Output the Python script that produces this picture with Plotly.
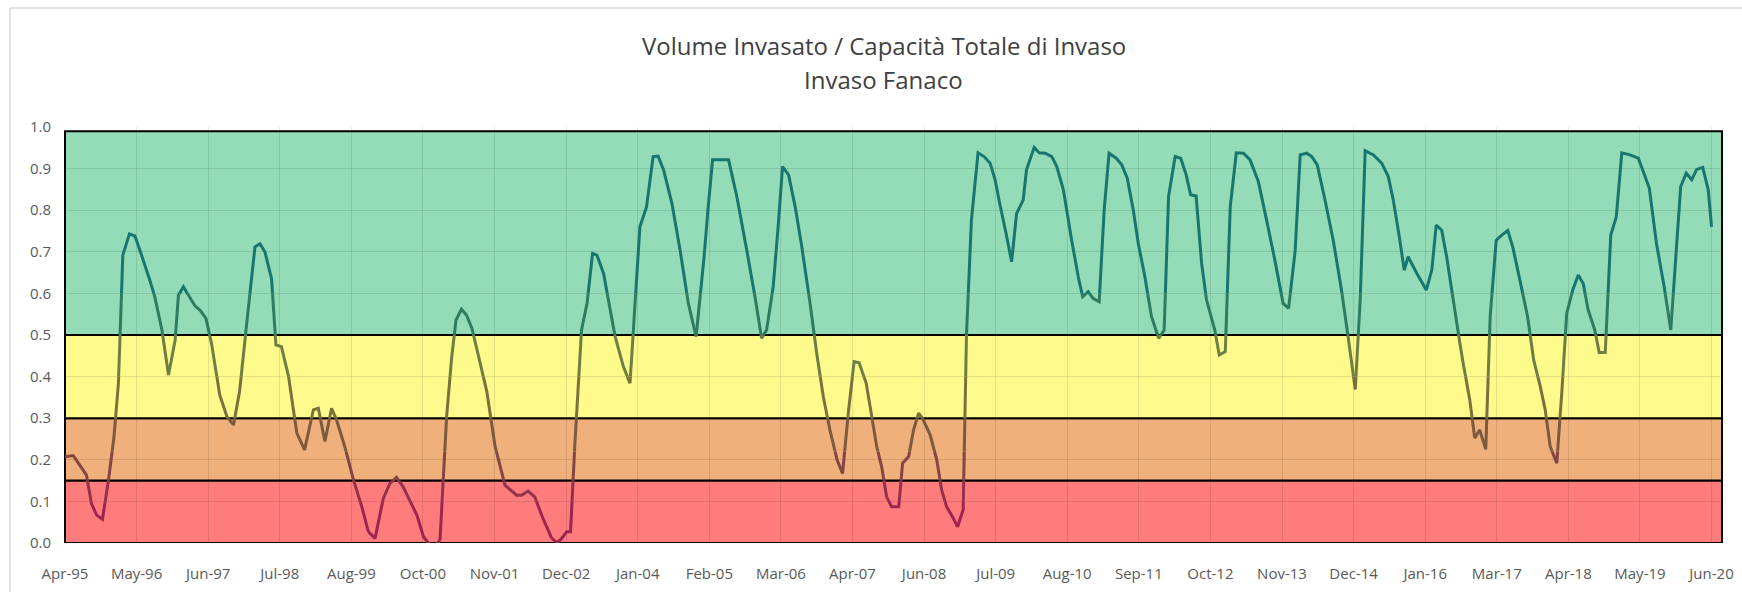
import plotly.graph_objects as go

# ---------------- data ----------------
# x = position along the category axis (one category per month, label every 13 categories)
month_idx = [
    0, 1.5, 3.3, 3.9, 4.8, 5.75, 6.8, 7.9, 8.9, 9.7, 10.5, 11.7, 12.7, 13.6, 15.4, 16.3, 17.6, 18.8, 20, 20.6,
    21.5, 22.4, 23.6, 24.5, 25.6, 26.6, 28.1, 29.4, 30.6, 31.7, 33, 34.5, 35.4, 36.3, 37.5, 38.3, 39.3, 40.6,
    42.1, 43.5, 45.1, 46, 47.2, 48.4, 49.3, 50.8, 52.4, 53.9, 55.1, 56.3, 57.8, 59, 60.2, 61.4, 63.9, 65.1,
    66.3, 67.2, 68.1, 69.3, 70.2, 71, 72, 72.9, 73.9, 75.4, 76.6, 78.1, 79.9, 82, 82.9, 84.1, 85.3, 86.8,
    88.4, 89.4, 90.2, 91.1, 91.8, 92.6, 93.8, 94.8, 95.8, 96.6, 97.8, 99.9, 101.4, 102.6, 104.4, 105.6,
    106.8, 107.7, 108.7, 110.2, 111.7, 113.2, 114.6, 116, 116.8, 117.6, 120.5, 122, 123.8, 125.3, 126.5,
    127.4, 128.6, 129.5, 130.3, 131.4, 132.6, 133.8, 135.3, 136.5, 137.7, 138.9, 140.2, 141.2, 142.3,
    143.3, 144.2, 145.5, 146.5, 147.4, 148.3, 149.2, 150.1, 151.4, 152.1, 153.2, 154.1, 155, 155.7, 157.1,
    158.3, 159.2, 160.1, 161, 162.1, 163.1, 163.7, 164.6, 165.8, 166.9, 168, 168.9, 169.8, 170.9, 171.9,
    172.8, 173.4, 174, 174.6, 176, 176.9, 178, 179.2, 180.1, 181.3, 182.8, 184, 184.8, 185.8, 186.7, 187.8,
    188.7, 189.6, 190.9, 191.9, 192.9, 194, 194.9, 196.1, 197.3, 198.6, 199.6, 200.4, 201.6, 202.6, 203.6,
    204.4, 205.4, 206.4, 207.3, 208.8, 209.6, 210.7, 211.6, 212.7, 214, 215.2, 216.7, 218.2, 219.7, 221.2,
    222.2, 223.4, 224.3, 225.5, 226.4, 227.4, 228.8, 230.3, 231.8, 233, 234.3, 235.2, 236.1, 237.6, 239.1,
    240.3, 241.2, 242.3, 243.2, 243.9, 245.5, 247.2, 248.2, 249, 250, 250.9, 252.1, 253.3, 253.9, 255.1,
    256, 256.9, 258, 258.8, 259.9, 260.9, 262, 262.9, 264.2, 265.6, 266.7, 267.9, 268.8, 269.7, 270.9,
    271.8, 272.7, 273.8, 274.8, 275.7, 276.6, 277.8, 278.6, 279.7, 280.7, 281.7, 282.7, 284.2, 285.7,
    286.6, 287.7, 289, 290.4, 291.6, 292.6, 293.4, 294.4, 295.4, 296.3, 297.4, 298.4, 299,
]
ratio = [
    0.207, 0.21, 0.175, 0.163, 0.095, 0.067, 0.057, 0.151, 0.256, 0.384, 0.692, 0.743, 0.738, 0.704, 0.632,
    0.592, 0.512, 0.404, 0.488, 0.596, 0.616, 0.596, 0.57, 0.56, 0.54, 0.48, 0.356, 0.304, 0.284, 0.364,
    0.528, 0.712, 0.719, 0.70, 0.636, 0.476, 0.472, 0.40, 0.264, 0.224, 0.32, 0.324, 0.244, 0.324, 0.296,
    0.232, 0.151, 0.087, 0.027, 0.011, 0.107, 0.143, 0.158, 0.135, 0.067, 0.015, -0.005, -0.009, 0.007,
    0.304, 0.444, 0.536, 0.562, 0.548, 0.516, 0.432, 0.364, 0.232, 0.139, 0.115, 0.115, 0.125, 0.111,
    0.059, 0.011, 0.001, 0.011, 0.027, 0.027, 0.24, 0.512, 0.576, 0.696, 0.692, 0.648, 0.496, 0.424, 0.384,
    0.76, 0.808, 0.929, 0.93, 0.897, 0.817, 0.704, 0.576, 0.496, 0.68, 0.808, 0.921, 0.921, 0.833, 0.704,
    0.592, 0.492, 0.512, 0.616, 0.76, 0.905, 0.885, 0.808, 0.712, 0.576, 0.456, 0.352, 0.272, 0.2, 0.167,
    0.32, 0.436, 0.433, 0.384, 0.304, 0.232, 0.183, 0.111, 0.087, 0.087, 0.192, 0.208, 0.272, 0.312, 0.30,
    0.26, 0.2, 0.127, 0.087, 0.067, 0.039, 0.08, 0.5, 0.776, 0.938, 0.929, 0.913, 0.873, 0.812, 0.744,
    0.676, 0.792, 0.808, 0.825, 0.897, 0.951, 0.938, 0.937, 0.929, 0.905, 0.849, 0.728, 0.64, 0.592, 0.604,
    0.588, 0.58, 0.8, 0.937, 0.925, 0.909, 0.877, 0.80, 0.72, 0.64, 0.544, 0.492, 0.512, 0.833, 0.929,
    0.925, 0.885, 0.837, 0.834, 0.672, 0.584, 0.512, 0.452, 0.46, 0.808, 0.938, 0.937, 0.921, 0.869, 0.776,
    0.68, 0.576, 0.564, 0.704, 0.933, 0.937, 0.929, 0.909, 0.825, 0.728, 0.608, 0.496, 0.369, 0.584, 0.943,
    0.933, 0.913, 0.881, 0.825, 0.736, 0.656, 0.688, 0.648, 0.608, 0.656, 0.764, 0.752, 0.688, 0.584, 0.48,
    0.432, 0.344, 0.252, 0.272, 0.225, 0.544, 0.728, 0.74, 0.751, 0.712, 0.632, 0.544, 0.44, 0.376, 0.32,
    0.232, 0.192, 0.36, 0.552, 0.608, 0.644, 0.624, 0.56, 0.512, 0.458, 0.458, 0.74, 0.784, 0.938, 0.933,
    0.925, 0.893, 0.853, 0.72, 0.616, 0.512, 0.704, 0.857, 0.889, 0.873, 0.898, 0.903, 0.849, 0.76,
]
tick_labels = ["Apr-95", "May-96", "Jun-97", "Jul-98", "Aug-99", "Oct-00", "Nov-01", "Dec-02",
               "Jan-04", "Feb-05", "Mar-06", "Apr-07", "Jun-08", "Jul-09", "Aug-10", "Sep-11",
               "Oct-12", "Nov-13", "Dec-14", "Jan-16", "Mar-17", "Apr-18", "May-19", "Jun-20"]
label_every = 13

# alert bands: (low, high, fill)
bands = [(0.0, 0.15, "#ff7c7c"), (0.15, 0.30, "#efb07c"), (0.30, 0.50, "#fffa8c"), (0.50, 0.99, "#94dcb7")]
# line colour by value range (gradient look)
line_zones = [
    (-1.0, 0.10, "#9e2550"), (0.10, 0.15, "#92324b"), (0.15, 0.22, "#854545"), (0.22, 0.30, "#7b5a3e"),
    (0.30, 0.40, "#79723d"), (0.40, 0.50, "#6d7f42"), (0.50, 0.60, "#2d7c60"), (0.60, 2.00, "#17766f"),
]


def zone_of(v):
    for k, (lo, hi, _) in enumerate(line_zones):
        if lo <= v < hi:
            return k
    return len(line_zones) - 1


# split the polyline where it crosses a zone edge, so each piece gets its zone colour
edges = [z[0] for z in line_zones[1:]]
pieces = []  # (zone, start point, end point)
for (x0, y0), (x1, y1) in zip(zip(month_idx, ratio), zip(month_idx[1:], ratio[1:])):
    cuts = [0.0, 1.0]
    for e in edges:
        if (y0 - e) * (y1 - e) < 0:
            cuts.append((e - y0) / (y1 - y0))
    cuts.sort()
    for ta, tb in zip(cuts, cuts[1:]):
        pa = (x0 + (x1 - x0) * ta, y0 + (y1 - y0) * ta)
        pb = (x0 + (x1 - x0) * tb, y0 + (y1 - y0) * tb)
        pieces.append((zone_of((pa[1] + pb[1]) / 2), pa, pb))

zone_x = {k: [] for k in range(len(line_zones))}
zone_y = {k: [] for k in range(len(line_zones))}
last = None
for k, pa, pb in pieces:
    if last is not None and last[0] == k and last[1] == pa:
        zone_x[k].append(pb[0]); zone_y[k].append(pb[1])
    else:
        if zone_x[k]:
            zone_x[k].append(None); zone_y[k].append(None)
        zone_x[k] += [pa[0], pb[0]]; zone_y[k] += [pa[1], pb[1]]
    last = (k, pb)

FONT = "Open Sans"
fig = go.Figure()
for k, (_, _, col) in enumerate(line_zones):
    fig.add_trace(go.Scatter(x=zone_x[k], y=zone_y[k], mode="lines", connectgaps=False,
                             line=dict(color=col, width=3, simplify=False),
                             hoverinfo="skip", showlegend=False, cliponaxis=False))

n_cat = label_every * (len(tick_labels) - 1)
shapes = []
for lo, hi, col in bands:
    shapes.append(dict(type="rect", xref="x domain", yref="y", x0=0, x1=1, y0=lo, y1=hi,
                       fillcolor=col, line=dict(color="black", width=2), layer="below"))
# chart-area frame (left and top edges)
shapes.append(dict(type="line", xref="paper", yref="paper", x0=-0.0332, x1=-0.0332, y0=-0.2, y1=1.286,
                   line=dict(color="#d9d9d9", width=1.5)))
shapes.append(dict(type="line", xref="paper", yref="paper", x0=-0.0332, x1=1.05, y0=1.286, y1=1.286,
                   line=dict(color="#d9d9d9", width=1.5)))

grid = "rgba(0,0,0,0.10)"
fig.update_layout(
    width=1742, height=592, autosize=False,
    margin=dict(l=65, r=20, t=127, b=49, autoexpand=False),
    paper_bgcolor="white", plot_bgcolor="rgba(0,0,0,0)",
    showlegend=False,
    shapes=shapes,
    xaxis=dict(range=[0, n_cat + 1.9], tickvals=[i * label_every for i in range(len(tick_labels))],
               ticktext=tick_labels, showgrid=True, gridcolor=grid, gridwidth=1, automargin=False,
               zeroline=False, showline=False, ticks="outside", ticklen=17, tickcolor="rgba(0,0,0,0)",
               tickfont=dict(family=FONT, size=15, color="#595959"), fixedrange=True),
    yaxis=dict(range=[0, 1], dtick=0.1, tick0=0, tickformat=".1f", automargin=False,
               showgrid=True, gridcolor=grid, gridwidth=1, zeroline=False,
               ticks="outside", ticklen=10, tickcolor="rgba(0,0,0,0)",
               tickfont=dict(family=FONT, size=15, color="#595959"), fixedrange=True),
    annotations=[
        dict(text="Volume Invasato / Capacità Totale di Invaso", xref="paper", yref="paper",
             x=0.494, y=1.197, xanchor="center", yanchor="middle", showarrow=False,
             font=dict(family=FONT, size=24, color="#404040")),
        dict(text="Invaso Fanaco", xref="paper", yref="paper", x=0.494, y=1.115,
             xanchor="center", yanchor="middle", showarrow=False,
             font=dict(family=FONT, size=24, color="#404040")),
    ],
)

fig.write_html("out.html", config={"displayModeBar": False},
               post_script="document.body.style.margin='0';")
